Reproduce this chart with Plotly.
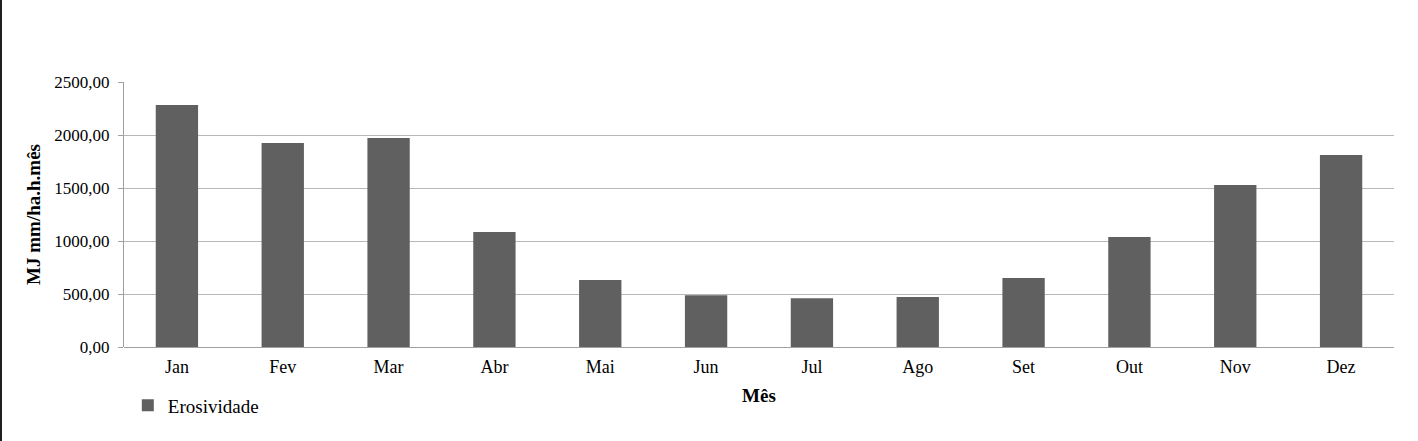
import plotly.graph_objects as go

meses = ["Jan", "Fev", "Mar", "Abr", "Mai", "Jun", "Jul", "Ago", "Set", "Out", "Nov", "Dez"]
erosividade = [2283, 1925, 1972, 1085, 632, 489, 460, 472, 651, 1038, 1528, 1811]
y_ticks = [0, 500, 1000, 1500, 2000, 2500]

serif = "Liberation Serif, Times New Roman, serif"

fig = go.Figure()
fig.add_trace(go.Bar(
    x=meses, y=erosividade, name="Erosividade",
    marker=dict(color="#606060", line=dict(width=0)),
))

fig.update_layout(
    width=1418, height=441,
    margin=dict(l=124, r=24, t=82, b=94),
    paper_bgcolor="white", plot_bgcolor="white",
    separators=", ",
    bargap=0.6,
    font=dict(family=serif, size=17, color="#000000"),
    showlegend=True,
    legend=dict(
        x=0.003, y=-0.22, xanchor="left", yanchor="middle",
        font=dict(family=serif, size=19, color="#000000"),
        bgcolor="rgba(0,0,0,0)", itemwidth=30,
    ),
    xaxis=dict(
        title=dict(text="<b>Mês</b>", font=dict(family=serif, size=19), standoff=12),
        showline=False, showgrid=False, ticks="",
        tickfont=dict(family=serif, size=18),
        ticklabelstandoff=7,
    ),
    yaxis=dict(
        range=[0, 2500], tickvals=y_ticks, tickformat=".2f",
        showgrid=True, gridcolor="#b8b8b8", gridwidth=1,
        showline=True, linecolor="#a0a0a0", linewidth=1,
        ticks="outside", ticklen=5, tickcolor="#a0a0a0",
        tickfont=dict(family=serif, size=17),
        ticklabelstandoff=5,
        zeroline=True, zerolinecolor="#a0a0a0", zerolinewidth=1,
        title=dict(text="<b>MJ mm/ha.h.mês</b>", font=dict(family=serif, size=19), standoff=8),
    ),
    shapes=[dict(
        type="line", xref="paper", yref="paper",
        x0=-123 / 1270, x1=-123 / 1270, y0=-94 / 265, y1=347 / 265,
        line=dict(color="#202020", width=2),
    )],
)

fig.write_html("out.html", config={"displayModeBar": False},
               post_script="document.body.style.margin='0';")
